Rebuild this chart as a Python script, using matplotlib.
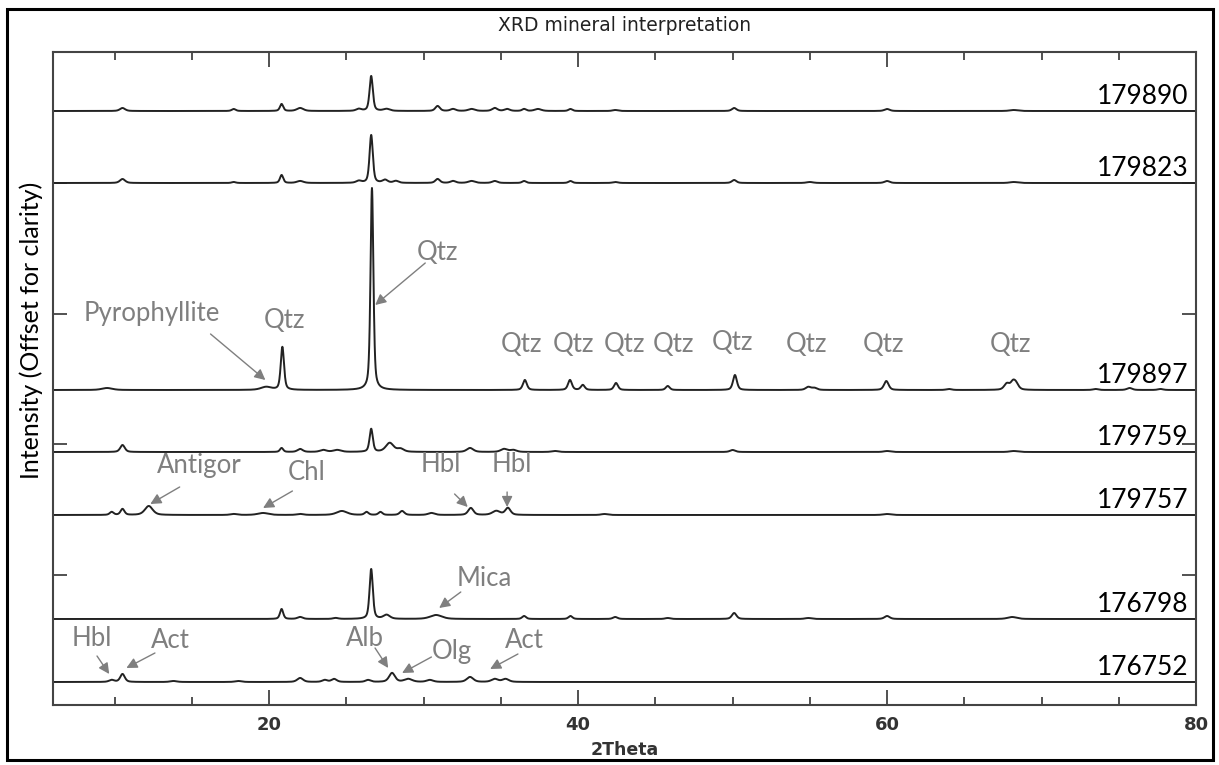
import matplotlib.pyplot as plt
import numpy as np
from matplotlib.patches import Rectangle

# sample labels (top to bottom) and their vertical offsets
samples = ["179890", "179823", "179897", "179759", "179757", "176798", "176752"]
offsets = [594, 522, 315, 253, 190, 86, 23]

# peak lists: (2theta, height, fwhm)
peaks_179890 = [(10.5, 3, 0.4), (17.7, 2, 0.3), (20.8, 7, 0.25), (22.0, 3, 0.5),
                (25.8, 2, 0.4), (26.6, 35, 0.25), (27.6, 2, 0.5), (30.9, 5, 0.35),
                (31.9, 2, 0.4), (33.1, 2, 0.5), (34.6, 3, 0.4), (35.4, 2, 0.4),
                (36.5, 2, 0.3), (37.4, 2, 0.5), (39.5, 2, 0.3), (42.4, 1, 0.4),
                (50.1, 3, 0.35), (60.0, 2, 0.4), (68.2, 1, 0.6)]
peaks_179823 = [(10.5, 4, 0.4), (17.7, 1, 0.3), (20.8, 8, 0.25), (22.0, 2, 0.5),
                (25.8, 2, 0.4), (26.6, 48, 0.25), (27.5, 3, 0.4), (28.2, 2, 0.4),
                (30.9, 4, 0.35), (31.9, 2, 0.4), (33.1, 2, 0.5), (34.6, 2, 0.4),
                (36.5, 2, 0.3), (39.5, 2, 0.3), (42.4, 1, 0.4), (50.1, 3, 0.35),
                (55.0, 1, 0.5), (60.0, 2, 0.4), (68.2, 1, 0.6)]
peaks_179897 = [(9.5, 2, 0.8), (19.8, 3, 0.8), (20.85, 43, 0.25), (26.65, 202, 0.22),
                (36.55, 10, 0.3), (39.47, 10, 0.3), (40.3, 5, 0.3), (42.45, 7, 0.3),
                (45.8, 4, 0.3), (50.15, 15, 0.3), (54.9, 3, 0.4), (55.3, 2, 0.4),
                (59.95, 9, 0.35), (64.0, 1, 0.4), (67.75, 6, 0.4), (68.15, 7, 0.4),
                (68.35, 5, 0.4), (73.5, 1, 0.4), (75.7, 2, 0.4), (77.7, 1, 0.4)]
peaks_179759 = [(10.5, 7, 0.35), (20.8, 4, 0.25), (22.0, 3, 0.4), (23.5, 2, 0.5),
                (24.4, 2, 0.6), (26.6, 23, 0.25), (27.8, 9, 0.6), (28.5, 3, 0.5),
                (33.0, 4, 0.5), (35.2, 3, 0.5), (35.8, 2, 0.5), (38.5, 1, 0.5),
                (50.0, 2, 0.4), (60.0, 1, 0.5), (68.2, 1, 0.6)]
peaks_179757 = [(9.8, 3, 0.3), (10.5, 6, 0.3), (12.2, 9, 0.6), (17.7, 1, 0.5),
                (19.6, 2, 0.8), (22.0, 1, 0.5), (24.7, 4, 0.8), (26.3, 3, 0.3),
                (27.2, 3, 0.3), (28.6, 4, 0.35), (30.5, 2, 0.5), (33.05, 7, 0.4),
                (34.7, 4, 0.6), (35.45, 7, 0.4), (41.7, 1, 0.5), (60.0, 1, 0.6)]
peaks_176798 = [(20.8, 10, 0.25), (22.0, 2, 0.4), (24.3, 1, 0.4), (26.6, 50, 0.25),
                (27.6, 4, 0.5), (30.8, 4, 0.9), (36.5, 3, 0.3), (39.5, 3, 0.3),
                (42.4, 2, 0.35), (45.8, 1, 0.4), (50.1, 6, 0.35), (54.9, 1, 0.5),
                (60.0, 3, 0.4), (68.1, 2, 0.7)]
peaks_176752 = [(9.8, 2, 0.4), (10.5, 8, 0.35), (13.8, 1, 0.5), (18.0, 1, 0.5),
                (22.0, 4, 0.45), (23.6, 2, 0.4), (24.2, 3, 0.4), (26.4, 2, 0.4),
                (27.95, 9, 0.45), (29.0, 3, 0.6), (30.4, 2, 0.5), (33.0, 5, 0.5),
                (34.6, 3, 0.5), (35.3, 3, 0.5)]

peak_lists = [peaks_179890, peaks_179823, peaks_179897, peaks_179759,
              peaks_179757, peaks_176798, peaks_176752]

two_theta = np.linspace(6, 80, 5000)


def profile(x, peaks):
    """pseudo-voigt sum for a peak list"""
    y = np.zeros_like(x)
    for x0, h, w in peaks:
        d = (x - x0) / (w / 2)
        y += h * (0.5 / (1 + d ** 2) + 0.5 * np.exp(-np.log(2) * d ** 2))
    return y


grey = "#7f7f7f"
lab_font = "Lato"

fig = plt.figure(figsize=(12.19, 7.65), dpi=100)
ax = fig.add_axes([53 / 1219, 60 / 765, 1143 / 1219, 653 / 765])

for name, off, pk in zip(samples, offsets, peak_lists):
    ax.plot(two_theta, off + profile(two_theta, pk), color="#222222", lw=1.4)
    ax.text(79.5, off + 7, name, ha="right", va="baseline", fontsize=19,
            family=lab_font, color="black")

# plain labels (no arrow)
qtz_spots = [(21.0, 385), (36.3, 360), (39.7, 360), (43.0, 360), (46.2, 360),
             (50.0, 362), (54.8, 360), (59.8, 360), (68.0, 360)]
for x, y in qtz_spots:
    ax.text(x, y, "Qtz", ha="center", va="center", fontsize=18.5,
            family=lab_font, color=grey)

# labels with arrows: text, text pos, arrow tail, arrow head
arrow_notes = [
    ("Pyrophyllite", (12.4, 392), (16.2, 371), (19.75, 325)),
    ("Qtz", (30.9, 452), (30.1, 442), (26.86, 400)),
    ("Antigor", (15.5, 239), (14.2, 218), (12.3, 201)),
    ("Chl", (22.4, 232), (21.5, 214), (19.6, 197)),
    ("Hbl", (31.1, 240), (32.0, 211), (32.85, 198)),
    ("Hbl", (35.7, 240), (35.4, 213), (35.4, 198)),
    ("Mica", (33.9, 126), (32.4, 113), (31.0, 97)),
    ("Hbl", (8.5, 66), (8.85, 49), (9.64, 31)),
    ("Act", (13.6, 64), (12.6, 52), (10.75, 37)),
    ("Alb", (26.2, 67), (26.85, 57), (27.7, 37)),
    ("Olg", (31.8, 53), (30.5, 48), (28.6, 32)),
    ("Act", (36.5, 64), (36.1, 51), (34.3, 36)),
]
for txt, tpos, tail, head in arrow_notes:
    ax.text(tpos[0], tpos[1], txt, ha="center", va="center", fontsize=18.5,
            family=lab_font, color=grey)
    ax.annotate("", xy=head, xytext=tail,
                arrowprops=dict(arrowstyle="-|>", color=grey, lw=1.0,
                                mutation_scale=16, shrinkA=0, shrinkB=0))

ax.set_xlim(6, 80)
ax.set_ylim(0, 653)
ax.set_xticks([20, 40, 60, 80])
ax.set_xticks(np.arange(10, 80, 5), minor=True)
ax.set_yticks([130.5, 261, 391.5, 522])
ax.set_yticklabels([])
ax.tick_params(axis="x", which="major", direction="in", length=11, width=1.2,
               top=True, labelsize=13, labelcolor="#333333", pad=8,
               color="#333333")
ax.tick_params(axis="x", which="minor", direction="in", length=6, width=1.2,
               top=True, color="#333333")
ax.tick_params(axis="y", direction="in", length=10, width=1.2, right=True,
               color="#333333")
for lbl in ax.get_xticklabels():
    lbl.set_fontweight("bold")
for sp in ax.spines.values():
    sp.set_color("#444444")
    sp.set_linewidth(1.5)

ax.set_xlabel("2Theta", fontsize=12.5, fontweight="bold", color="#333333",
              labelpad=5)
ax.set_ylabel("Intensity (Offset for clarity)", fontsize=18, family=lab_font,
              color="black")
ax.yaxis.set_label_coords(-0.009, 0.573)
fig.text(0.512, 0.967, "XRD mineral interpretation", ha="center", va="center",
         fontsize=13.5, color="#222222")

fig.patches.append(Rectangle((7 / 1219, 5 / 765), 1206 / 1219, 751 / 765,
                             transform=fig.transFigure, fill=False, lw=2.2,
                             ec="black"))

fig.savefig("out.png", dpi=100)
